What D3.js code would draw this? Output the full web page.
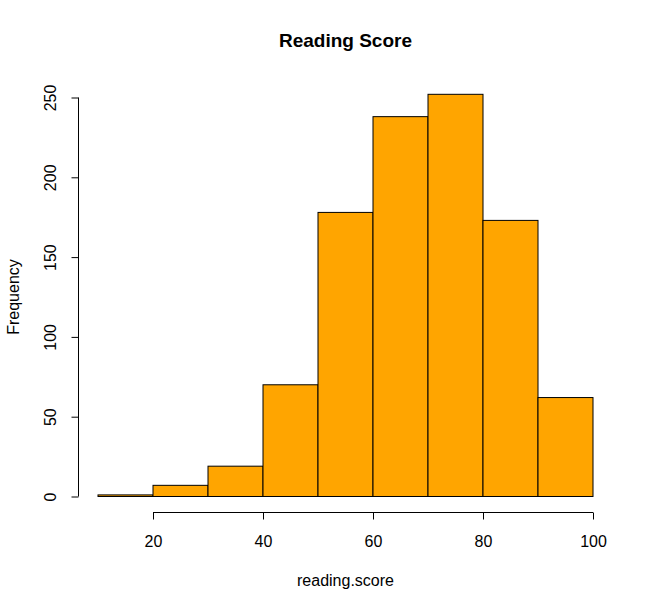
<!DOCTYPE html>
<html>
<head>
<meta charset="utf-8">
<script src="https://cdn.jsdelivr.net/npm/d3@7"></script>
<style>
  body { margin: 0; background: #fff; }
  text { font-family: "Liberation Sans", Arial, sans-serif; fill: #000; }
</style>
</head>
<body>
<svg id="chart"></svg>
<script>
// histogram bins (lower edges) and counts
const binStarts = [10, 20, 30, 40, 50, 60, 70, 80, 90];
const binWidth = 10;
const counts = [1, 7, 19, 70, 178, 238, 252, 173, 62];
const xTicks = [20, 40, 60, 80, 100];
const yTicks = [0, 50, 100, 150, 200, 250];

const width = 654, height = 610;
const svg = d3.select("#chart").attr("width", width).attr("height", height);

// R-style 4% padding round the data range
const x = d3.scaleLinear().domain([10, 100]).range([98, 593]);
const y = d3.scaleLinear().domain([0, 250]).range([496.5, 97.5]);

const bins = binStarts.map((s, i) => ({x0: s, x1: s + binWidth, n: counts[i]}));

svg.append("g").selectAll("rect")
    .data(bins)
    .enter().append("rect")
    .attr("x", d => x(d.x0))
    .attr("width", d => x(d.x1) - x(d.x0))
    .attr("y", d => y(d.n))
    .attr("height", d => y(0) - y(d.n))
    .attr("fill", "#FFA500")
    .attr("stroke", "black")
    .attr("stroke-width", 1);

// x axis, offset below plot like base R
const xAxis = svg.append("g")
    .attr("transform", "translate(0,512.5)")
    .call(d3.axisBottom(x).tickValues(xTicks).tickSize(7).tickPadding(16).tickSizeOuter(0));
xAxis.select(".domain").attr("d", `M${x(20)},0H${x(100)}`);
xAxis.selectAll("text").style("font-size", "16px").attr("font-family", null);
xAxis.selectAll("line, path").attr("stroke", "black");

// y axis with rotated labels
const yAxis = svg.append("g")
    .attr("transform", "translate(78.5,0)")
    .call(d3.axisLeft(y).tickValues(yTicks).tickSize(7).tickSizeOuter(0));
yAxis.select(".domain").attr("d", `M0,${y(0)}V${y(250)}`);
yAxis.selectAll("line, path").attr("stroke", "black");
yAxis.selectAll("text")
    .style("font-size", "16px")
    .attr("font-family", null)
    .attr("x", null).attr("dy", null)
    .attr("text-anchor", "middle")
    .attr("transform", "translate(-23,0) rotate(-90)");

svg.append("text")
    .attr("x", 345.5).attr("y", 47)
    .attr("text-anchor", "middle")
    .style("font-size", "19px").style("font-weight", "bold")
    .text("Reading Score");

svg.append("text")
    .attr("x", 345.5).attr("y", 586)
    .attr("text-anchor", "middle")
    .style("font-size", "16px")
    .text("reading.score");

svg.append("text")
    .attr("transform", "translate(19,297) rotate(-90)")
    .attr("text-anchor", "middle")
    .style("font-size", "16px")
    .text("Frequency");
</script>
</body>
</html>
